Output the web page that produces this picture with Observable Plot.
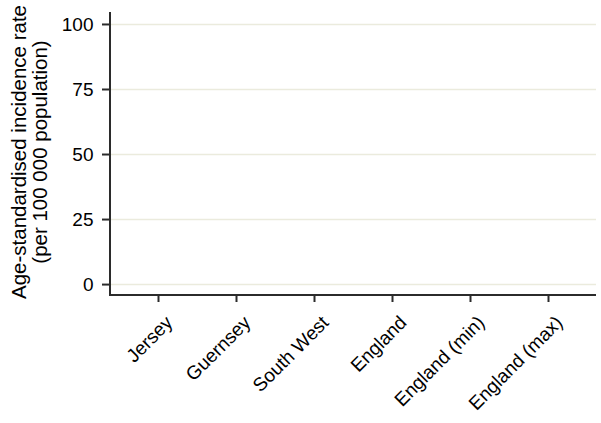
<!DOCTYPE html>
<html>
<head>
<meta charset="utf-8">
<script src="https://cdn.jsdelivr.net/npm/d3@7"></script>
<script src="https://cdn.jsdelivr.net/npm/@observablehq/plot@0.6"></script>
<style>
  html, body { margin: 0; padding: 0; background: #fff; }
  #chart { width: 601px; height: 423px; }
</style>
</head>
<body>
<div id="chart"></div>
<script>
// Categories shown on the x axis
const categories = ["Jersey", "Guernsey", "South West", "England", "England (min)", "England (max)"];
// Series values (the reference chart shows no bars)
const values = [null, null, null, null, null, null];
// Y tick labels
const yTicks = [0, 25, 50, 75, 100];
const yDomain = [-4.2, 104.6];
const yTitle = "Age-standardised incidence rate\n(per 100 000 population)";

const data = categories.map((c, i) => ({category: c, value: values[i]}));

const font = "'Liberation Sans', Arial, sans-serif";

function axisLines(index, scales, values, dims) {
  const {width, height, marginLeft, marginRight, marginTop, marginBottom} = dims;
  const g = d3.create("svg:g").attr("stroke", "#2b2b2b").attr("stroke-width", 2).attr("fill", "none");
  g.append("line").attr("x1", marginLeft).attr("x2", marginLeft)
    .attr("y1", marginTop).attr("y2", height - marginBottom + 1);
  g.append("line").attr("x1", marginLeft - 1).attr("x2", width - marginRight)
    .attr("y1", height - marginBottom).attr("y2", height - marginBottom);
  return g.node();
}

const plot = Plot.plot({
  width: 601,
  height: 423,
  marginLeft: 110,
  marginRight: 5,
  marginTop: 12,
  marginBottom: 128,
  style: {fontFamily: font, fontSize: "19px", color: "#000", background: "#fff"},
  x: {type: "band", domain: categories, paddingInner: 0.2, paddingOuter: 0.184},
  y: {domain: yDomain},
  marks: [
    Plot.ruleY(yTicks, {stroke: "#ebebdd", strokeWidth: 1.5}),
    Plot.barY(data.filter(d => d.value != null), {x: "category", y: "value", fill: "#4472c4"}),
    axisLines,
    Plot.axisY({ticks: yTicks, tickSize: 8, tickPadding: 9, fontSize: 19, stroke: "#2b2b2b", strokeWidth: 2, label: null}),
    Plot.axisX({tickSize: 7, stroke: "#2b2b2b", strokeWidth: 2, label: null, text: null}),
    Plot.text(categories, {x: d => d, frameAnchor: "bottom", rotate: -45, textAnchor: "end", lineAnchor: "middle", dx: 11, dy: 24, fontSize: 19, fill: "#000"}),
    Plot.text([yTitle], {frameAnchor: "left", rotate: -90, textAnchor: "middle", lineAnchor: "top", dx: -100, dy: -2, fontSize: 20.5, lineHeight: 1.05, fill: "#000"})
  ]
});

document.getElementById("chart").appendChild(plot);
</script>
</body>
</html>
